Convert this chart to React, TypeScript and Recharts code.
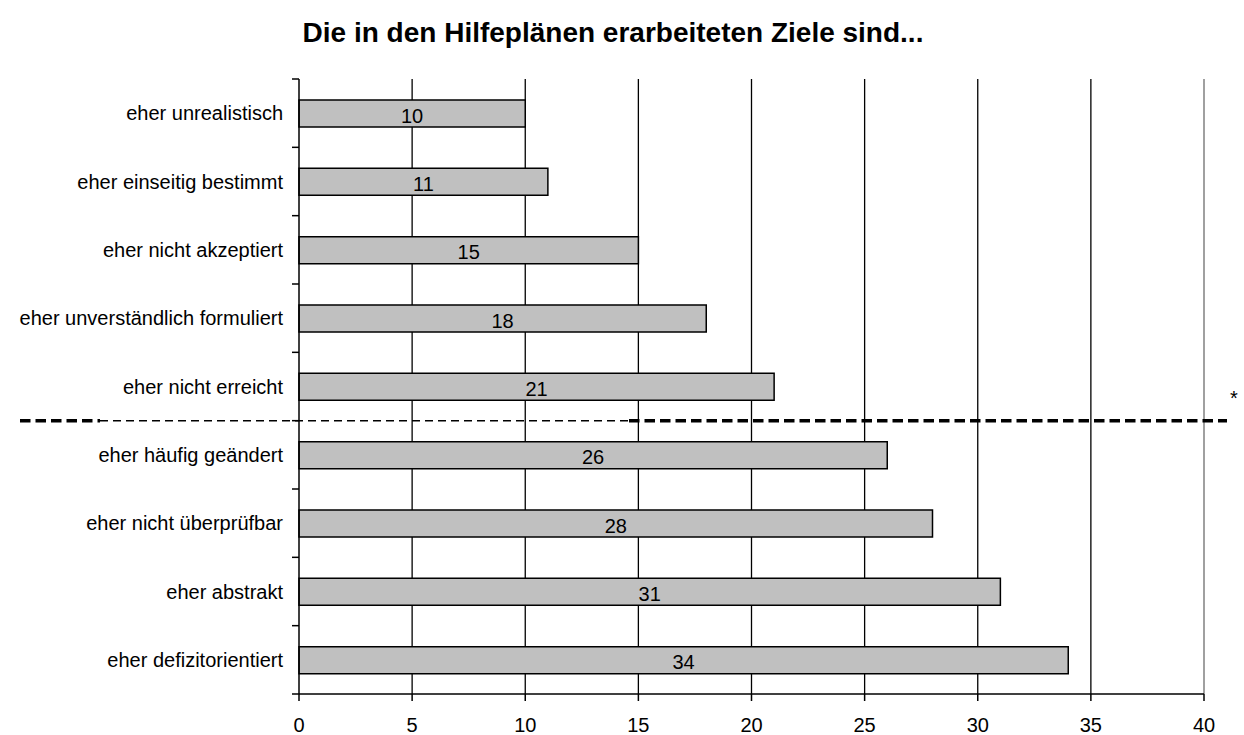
import { BarChart, Bar, XAxis, YAxis, LabelList, ReferenceLine, CartesianGrid } from 'recharts';

const title = 'Die in den Hilfeplänen erarbeiteten Ziele sind...';

const categories = [
  'eher unrealistisch',
  'eher einseitig bestimmt',
  'eher nicht akzeptiert',
  'eher unverständlich formuliert',
  'eher nicht erreicht',
  'eher häufig geändert',
  'eher nicht überprüfbar',
  'eher abstrakt',
  'eher defizitorientiert',
];

const values = [10, 11, 15, 18, 21, 26, 28, 31, 34];

const xTicks = [0, 5, 10, 15, 20, 25, 30, 35, 40];
const gridValues = [5, 10, 15, 20, 25, 30, 35];

// index after which the dashed separator is drawn
const separatorAfter = 5;

const data = categories.map((name, i) => ({ name, value: values[i] }));

const W = 1244;
const H = 735;
const margin = { top: 79, right: 40, bottom: 0, left: 0 };
const yAxisWidth = 299;
const xAxisHeight = 41;
const xMax = 40;
const plotLeft = margin.left + yAxisWidth;
const plotW = W - margin.right - plotLeft;
const plotTop = margin.top;
const plotH = H - margin.top - margin.bottom - xAxisHeight;
const band = plotH / categories.length;
const font = '"Liberation Sans", Arial, sans-serif';

function YTick(props: any) {
  const { y, payload, index } = props;
  const axisX = plotLeft;
  const last = index === categories.length - 1;
  return (
    <g>
      <line x1={axisX - 7} x2={axisX} y1={y - band / 2} y2={y - band / 2} stroke="#000" strokeWidth={1.5} />
      {last && (
        <line x1={axisX - 7} x2={axisX} y1={y + band / 2} y2={y + band / 2} stroke="#000" strokeWidth={1.5} />
      )}
      <text x={axisX - 16} y={y} textAnchor="end" dominantBaseline="central" fontSize={20} fill="#000" fontFamily={font}>
        {payload.value}
      </text>
    </g>
  );
}

// vertical grid lines only at the inner ticks (the 40 line is grey, drawn separately)
const gridGen = (args: any) => {
  const s = args?.xAxis?.scale;
  return gridValues.map((v) => (typeof s === 'function' ? s(v) : plotLeft + (v * plotW) / xMax));
};

export default function App() {
  const sepY = plotTop + band * separatorAfter;
  return (
    <div style={{ position: 'absolute', left: 0, top: 0, width: W, height: H, fontFamily: font, overflow: 'hidden' }}>
      <BarChart width={W} height={H} data={data} layout="vertical" margin={margin} barSize={27}>
        <CartesianGrid
          horizontal={false}
          vertical
          stroke="#000"
          strokeWidth={1.3}
          verticalCoordinatesGenerator={gridGen}
        />
        <XAxis
          type="number"
          domain={[0, xMax]}
          ticks={xTicks}
          interval={0}
          height={xAxisHeight}
          axisLine={{ stroke: '#000', strokeWidth: 1.5 }}
          tickLine={{ stroke: '#000', strokeWidth: 1.5 }}
          tickSize={7}
          tickMargin={17}
          tick={{ fill: '#000', fontSize: 20, fontFamily: font }}
        />
        <XAxis
          xAxisId="top"
          orientation="top"
          type="number"
          domain={[0, xMax]}
          height={0}
          tick={false}
          tickLine={false}
          axisLine={{ stroke: '#808080', strokeWidth: 1.5 }}
        />
        <YAxis
          type="category"
          dataKey="name"
          width={yAxisWidth}
          interval={0}
          axisLine={{ stroke: '#000', strokeWidth: 1.5 }}
          tickLine={false}
          tick={<YTick />}
        />
        <ReferenceLine x={xMax} stroke="#808080" strokeWidth={1.5} />
        <Bar dataKey="value" fill="#c0c0c0" stroke="#000" strokeWidth={1.5} isAnimationActive={false}>
          <LabelList dataKey="value" position="center" fill="#000" fontSize={20} fontFamily={font} dy={2} />
        </Bar>
      </BarChart>
      <svg width={W} height={H} style={{ position: 'absolute', left: 0, top: 0, pointerEvents: 'none' }}>
        <text x={613} y={32} textAnchor="middle" dominantBaseline="central" fontSize={28} fontWeight="bold" fill="#000" fontFamily={font}>
          {title}
        </text>
        <line x1={20} x2={100} y1={sepY} y2={sepY} stroke="#000" strokeWidth={3.5} strokeDasharray="10.5 5" />
        <line x1={100} x2={629} y1={sepY} y2={sepY} stroke="#000" strokeWidth={1.5} strokeDasharray="8 5" />
        <line x1={629} x2={1227} y1={sepY} y2={sepY} stroke="#000" strokeWidth={3.5} strokeDasharray="10.5 5" />
        <text x={1234} y={398} textAnchor="middle" dominantBaseline="central" fontSize={20} fill="#000" fontFamily={font}>
          *
        </text>
      </svg>
    </div>
  );
}
